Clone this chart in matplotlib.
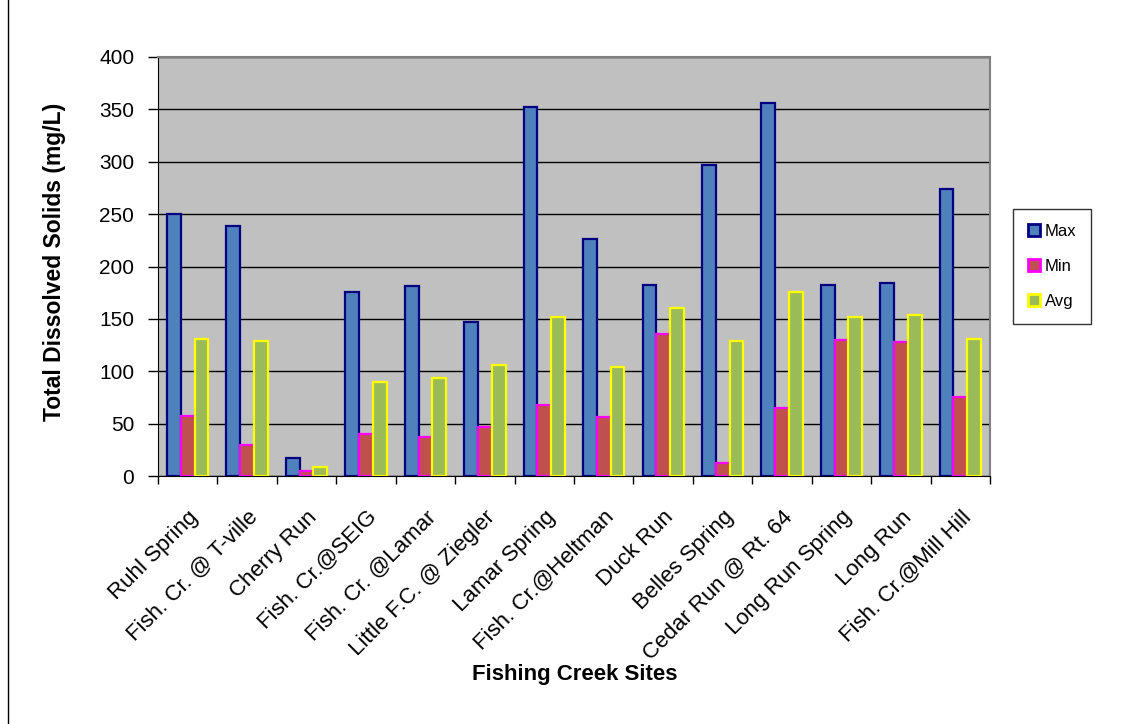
import numpy as np
import matplotlib.pyplot as plt
from matplotlib.lines import Line2D
from matplotlib.patches import Patch

plt.rcParams['font.family'] = ['Liberation Sans', 'DejaVu Sans']

sites = ['Ruhl Spring', 'Fish. Cr. @ T-ville', 'Cherry Run', 'Fish. Cr.@SEIG',
         'Fish. Cr. @Lamar', 'Little F.C. @ Ziegler', 'Lamar Spring',
         'Fish. Cr.@Heltman', 'Duck Run', 'Belles Spring', 'Cedar Run @ Rt. 64',
         'Long Run Spring', 'Long Run', 'Fish. Cr.@Mill Hill']
tds_max = [250, 239, 17, 176, 181, 147, 352, 226, 182, 297, 356, 182, 184, 274]
tds_min = [57, 30, 5, 40, 37, 47, 68, 56, 136, 12, 65, 130, 128, 75]
tds_avg = [131, 129, 9, 90, 94, 106, 152, 104, 160, 129, 176, 152, 154, 131]

series = [
    ('Max', tds_max, '#4F81BD', '#000080'),
    ('Min', tds_min, '#C0504D', '#FF00FF'),
    ('Avg', tds_avg, '#9BBB59', '#FFFF00'),
]

fig = plt.figure(figsize=(11.3, 7.24), dpi=100)
ax = fig.add_axes([0.1398, 0.3425, 0.7364, 0.5788])
ax.set_facecolor('#C0C0C0')

x = np.arange(len(sites))
w = 0.232
for k, (name, vals, fc, ec) in enumerate(series):
    ax.bar(x + (k - 1) * w, vals, width=w, color=fc, edgecolor=ec,
           linewidth=1.6, zorder=3, label=name)

ax.set_xlim(-0.5, len(sites) - 0.5)
ax.set_ylim(0, 400)
ax.set_yticks(np.arange(0, 401, 50))
ax.yaxis.grid(True, color='black', linewidth=1.0, zorder=1)
ax.set_axisbelow(True)

# category ticks sit on the boundaries, labels in the middle
ax.set_xticks(np.arange(len(sites) + 1) - 0.5)
ax.set_xticklabels([])
ax.set_xticks(x, minor=True)
ax.set_xticklabels(sites, minor=True, rotation=45, ha='right',
                   rotation_mode='anchor', fontsize=16)
ax.tick_params(axis='x', which='minor', length=0, pad=22)
ax.tick_params(axis='x', which='major', length=6, width=1, color='black')
ax.tick_params(axis='y', length=7, width=1, labelsize=15, pad=10)

for side in ['top', 'right']:
    ax.spines[side].set_color('#808080')
    ax.spines[side].set_linewidth(1.5)
ax.spines['left'].set_color('black')
ax.spines['bottom'].set_color('black')

ax.set_ylabel('Total Dissolved Solids (mg/L)', fontsize=16.5, fontweight='bold')
ax.yaxis.set_label_coords(-0.111, 0.51)
ax.set_xlabel('Fishing Creek Sites', fontsize=16, fontweight='bold')
ax.xaxis.set_label_coords(0.501, -0.449)

handles = [Patch(facecolor=fc, edgecolor=ec, linewidth=2.0, label=name)
           for name, vals, fc, ec in series]
leg = fig.legend(handles=handles, loc='upper left',
                 bbox_to_anchor=(1013 / 1130, 1 - 209 / 724),
                 frameon=True, fancybox=False, edgecolor='black',
                 fontsize=12, handlelength=0.7, handleheight=0.7,
                 handletextpad=0.3, labelspacing=1.2, borderpad=0.9,
                 borderaxespad=0)
leg.get_frame().set_linewidth(1.0)

# chart border on the left edge
fig.add_artist(Line2D([8 / 1130, 8 / 1130], [0.0, 1.0], color='black',
                      linewidth=1.0, transform=fig.transFigure))

fig.savefig('out.png', dpi=100, facecolor='white')
